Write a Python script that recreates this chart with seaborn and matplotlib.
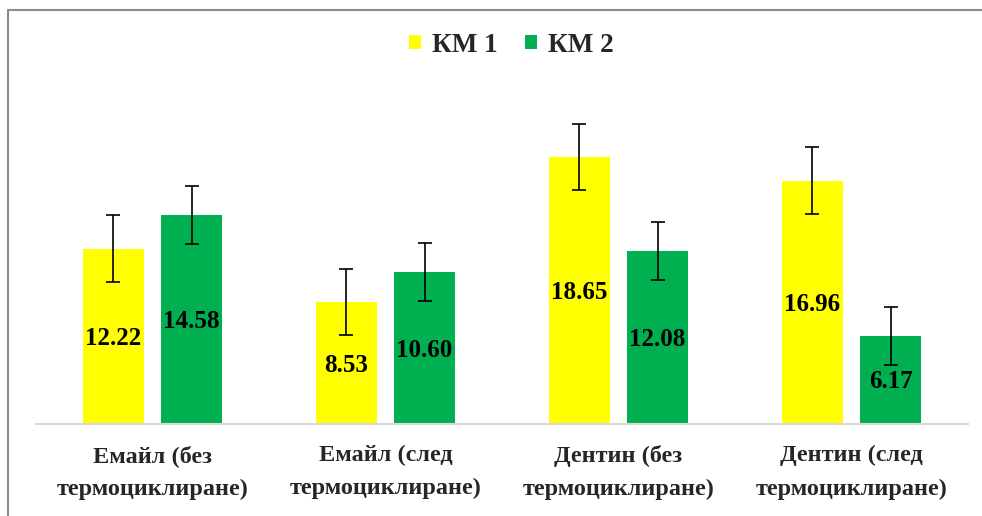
import matplotlib
matplotlib.use("Agg")
import matplotlib.pyplot as plt
import matplotlib.patches as mpatches
from matplotlib.lines import Line2D
import seaborn as sns
import pandas as pd
import numpy as np

categories = ["Емайл (без\nтермоциклиране)", "Емайл (след\nтермоциклиране)",
              "Дентин (без\nтермоциклиране)", "Дентин (след\nтермоциклиране)"]
series = ["КМ 1", "КМ 2"]
km1_values = [12.22, 8.53, 18.65, 16.96]
km2_values = [14.58, 10.60, 12.08, 6.17]
km1_err = [2.33, 2.30, 2.30, 2.34]
km2_err = [2.02, 2.02, 2.02, 2.02]
colors = ["#FFFF00", "#00B050"]

df = pd.DataFrame({
    "category": categories * 2,
    "series": [series[0]] * 4 + [series[1]] * 4,
    "value": km1_values + km2_values,
})

sns.set_theme(style="white")
plt.rcParams["font.family"] = ["Liberation Serif", "DejaVu Serif"]
plt.rcParams["font.weight"] = "bold"

W, H = 982, 516
fig = plt.figure(figsize=(W / 100, H / 100), dpi=100)
x0, x1 = 36, 968
ybase = 424
ymax = 25
ppu = 14.33
ytop = ybase - ymax * ppu
ax = fig.add_axes([x0 / W, (H - ybase) / H, (x1 - x0) / W, (ybase - ytop) / H])

sns.barplot(data=df, x="category", y="value", hue="series", palette=colors,
            width=0.67, gap=0.23, errorbar=None, ax=ax, legend=False,
            saturation=1, linewidth=0)

errs = [km1_err, km2_err]
for cont, err in zip(ax.containers, errs):
    xs = [b.get_x() + b.get_width() / 2 for b in cont]
    hs = [b.get_height() for b in cont]
    ax.errorbar(xs, hs, yerr=err, fmt="none", ecolor="black", elinewidth=1.2,
                capsize=4.7, capthick=1.2, zorder=5)
    for xx, hh in zip(xs, hs):
        ax.text(xx, hh / 2 - 0.15, f"{hh:.2f}", ha="center", va="center",
                fontsize=18, fontweight="bold", color="black", zorder=6)

ax.set_ylim(0, ymax)
ax.set_xlim(-0.5, 3.5)
ax.set_xlabel("")
ax.set_ylabel("")
ax.set_yticks([])
for s in ["top", "right", "left"]:
    ax.spines[s].set_visible(False)
ax.spines["bottom"].set_color("#D9D9D9")
ax.spines["bottom"].set_linewidth(1.5)
ax.tick_params(axis="x", length=0, pad=15)
ax.set_xticks(range(4))
ax.set_xticklabels(categories, fontsize=17.5, fontweight="bold", linespacing=1.76)

handles = [mpatches.Patch(facecolor=c, edgecolor="none", label=s) for c, s in zip(colors, series)]
fig.legend(handles=handles, loc="center", bbox_to_anchor=(511 / W, 1 - 45 / H),
           ncol=2, frameon=False, prop={"family": "Liberation Serif", "weight": "bold", "size": 19.5},
           handlelength=0.45, handleheight=0.45, handletextpad=0.4, columnspacing=1.0)

# chart border (top and left visible)
fig.add_artist(Line2D([8 / W, 1], [1 - 10 / H, 1 - 10 / H], color="#8C8C8C", lw=1.5,
                      transform=fig.transFigure))
fig.add_artist(Line2D([8 / W, 8 / W], [0, 1 - 10 / H], color="#8C8C8C", lw=1.5,
                      transform=fig.transFigure))

fig.savefig("out.png", dpi=100, facecolor="white")
